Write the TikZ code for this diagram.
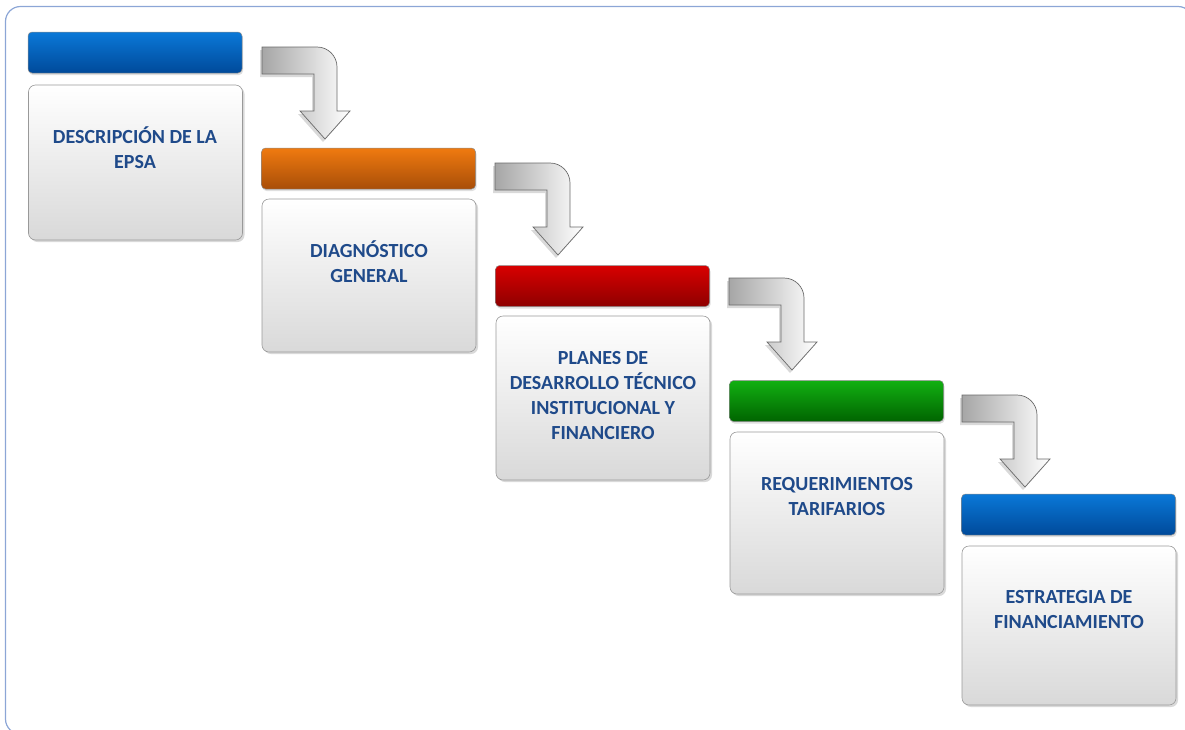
\documentclass[tikz,border=0pt]{standalone}
\usepackage{fontspec}
\setmainfont{Carlito}
\usetikzlibrary{shadows}
\definecolor{frameblue}{HTML}{8CA6D6}
\definecolor{txtblue}{HTML}{1F4A8A}
\definecolor{blueT}{HTML}{0A78D8}\definecolor{blueB}{HTML}{004A9A}
\definecolor{orT}{HTML}{F07A10}\definecolor{orB}{HTML}{A84E08}
\definecolor{redT}{HTML}{D80000}\definecolor{redB}{HTML}{8E0000}
\definecolor{grT}{HTML}{12B012}\definecolor{grB}{HTML}{006400}
\definecolor{arrline}{HTML}{6A6A6A}
\tikzset{
  hdr/.style={rounded corners=4pt, minimum width=214pt, minimum height=41pt, inner sep=0pt,
    draw=black!45, line width=0.5pt, drop shadow={shadow xshift=1pt, shadow yshift=-2pt, opacity=0.25}},
  bodybox/.style={rounded corners=7pt, minimum width=214pt, inner sep=0pt,
    draw=black!40, line width=0.6pt, top color=white, bottom color=black!15,
    drop shadow={shadow xshift=2pt, shadow yshift=-2pt, opacity=0.3}},
  lbl/.style={font=\bfseries\fontsize{20}{25}\selectfont, text=txtblue, align=center},
  bentarrow/.style={draw=arrline, line width=0.7pt, left color=black!35, right color=white,
    drop shadow={shadow xshift=-2pt, shadow yshift=-3pt, opacity=0.3}}
}
\newcommand{\bentarr}[3]{% name, x0, t
  \path[bentarrow] (#2,#3) -- (#2+55,#3) arc[start angle=-90, end angle=0, radius=20]
    -- (#2+75,#3+64) -- (#2+88,#3+64) -- (#2+63,#3+92) coordinate (#1)
    -- (#2+38,#3+64) -- (#2+52,#3+64) -- (#2+52,#3+27) -- (#2,#3+27) -- cycle;}
\begin{document}
\begin{tikzpicture}[x=1pt,y=-1pt]
\useasboundingbox (0,0) rectangle (1185,729);
\begin{scope}
\clip (0,0) rectangle (1185,729);
\draw[frameblue, line width=1.2pt, rounded corners=15pt] (5.5,6.5) rectangle (1193,734);
\end{scope}
% headers
\node[hdr, top color=blueT, bottom color=blueB] (h1) at (135,52.5) {};
\node[hdr, top color=orT, bottom color=orB] (h2) at (368.5,168.5) {};
\node[hdr, top color=redT, bottom color=redB] (h3) at (602.5,286) {};
\node[hdr, top color=grT, bottom color=grB] (h4) at (836.5,401) {};
\node[hdr, top color=blueT, bottom color=blueB] (h5) at (1068.5,514.5) {};
% bodies
\node[bodybox, minimum height=155pt] (b1) at (135.5,162.5) {};
\node[bodybox, minimum height=153pt] (b2) at (369,275.5) {};
\node[bodybox, minimum height=164pt] (b3) at (603,398) {};
\node[bodybox, minimum height=162pt] (b4) at (837,513) {};
\node[bodybox, minimum height=159pt] (b5) at (1069,625.5) {};
% labels
\node[lbl] (t1) at (135,148) {DESCRIPCIÓN DE LA\\EPSA};
\node[lbl] (t2) at (369,261.5) {DIAGNÓSTICO\\GENERAL};
\node[lbl] (t3) at (603,396) {PLANES DE\\DESARROLLO TÉCNICO\\INSTITUCIONAL Y\\FINANCIERO};
\node[lbl] (t4) at (837,496) {REQUERIMIENTOS\\TARIFARIOS};
\node[lbl] (t5) at (1069,609.5) {ESTRATEGIA DE\\FINANCIAMIENTO};
% arrows
\bentarr{a1}{262}{47}
\bentarr{a2}{495}{163}
\bentarr{a3}{729}{278}
\bentarr{a4}{962}{395}
\end{tikzpicture}
\end{document}
